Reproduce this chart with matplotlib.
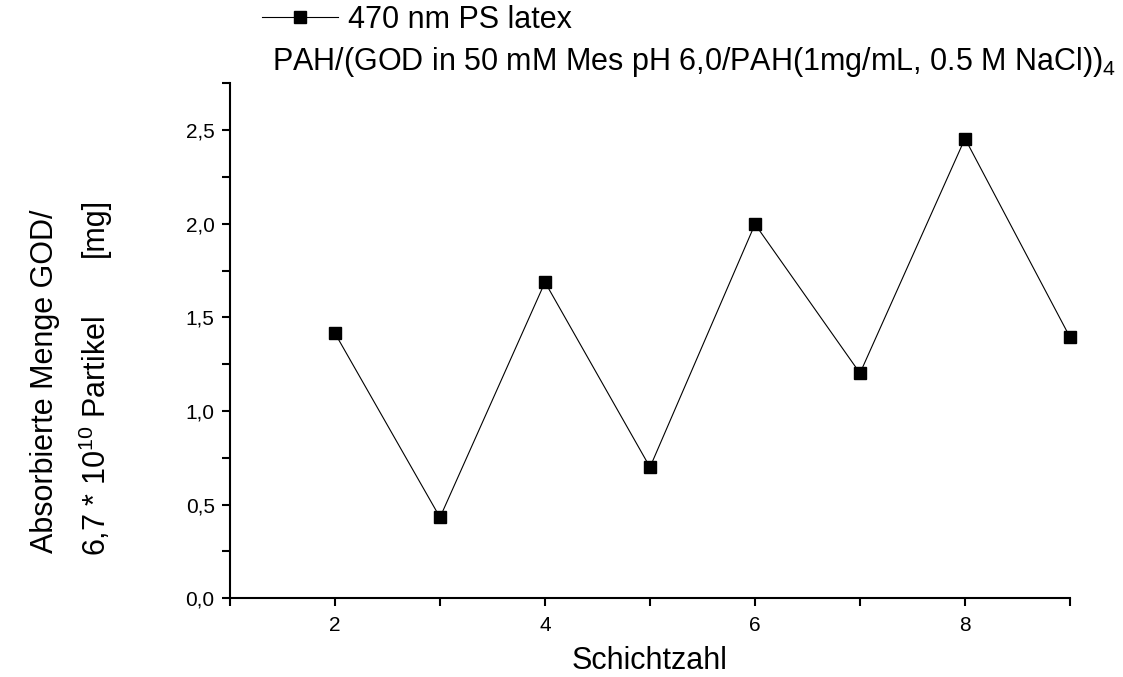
import matplotlib
matplotlib.use("Agg")
import matplotlib.pyplot as plt
from matplotlib.ticker import MultipleLocator, FuncFormatter

plt.rcParams['font.family'] = ['Liberation Sans', 'DejaVu Sans']
plt.rcParams['mathtext.fontset'] = 'custom'
plt.rcParams['mathtext.rm'] = 'Liberation Sans'
plt.rcParams['mathtext.it'] = 'Liberation Sans'

# data
schichten = [2, 3, 4, 5, 6, 7, 8, 9]
menge = [1.415, 0.432, 1.688, 0.700, 1.998, 1.202, 2.455, 1.394]
serie = "470 nm PS latex"
titel = r"PAH/(GOD in 50 mM Mes pH 6,0/PAH(1mg/mL, 0.5 M NaCl))$_4$"

fig = plt.figure(figsize=(11.23, 6.77), dpi=100)
ax = fig.add_axes([230/1123, 1 - 598.3/677, 840/1123, 515/677])

ax.plot(schichten, menge, color='black', linewidth=0.8, marker='s',
        markersize=9, markerfacecolor='black', markeredgecolor='black',
        label=serie, clip_on=False)

ax.set_xlim(1, 9)
ax.set_ylim(0, 2.75)
ax.patch.set_alpha(0)

# only left and bottom axes like the original
ax.spines['right'].set_visible(False)
ax.spines['top'].set_visible(False)
ax.spines['left'].set_linewidth(1.5)
ax.spines['bottom'].set_linewidth(1.5)

ax.xaxis.set_major_locator(MultipleLocator(2))
ax.xaxis.set_minor_locator(MultipleLocator(1))
ax.yaxis.set_major_locator(MultipleLocator(0.5))
ax.yaxis.set_minor_locator(MultipleLocator(0.25))
ax.yaxis.set_major_formatter(FuncFormatter(lambda v, p: f"{v:.1f}".replace('.', ',')))

ax.tick_params(which='both', direction='out', length=6, width=1.5, labelsize=15)
ax.tick_params(axis='y', which='major', pad=5)
ax.tick_params(axis='x', which='major', pad=7)

ax.set_xlabel("Schichtzahl", fontsize=22, labelpad=8)

# two line y label
fig.text(45/1123, 1 - 381/677, "Absorbierte Menge GOD/", rotation=90,
         ha='center', va='center', fontsize=22)
fig.text(95/1123, 1 - 556/677, r"6,7 * 10$^{10}$ Partikel", rotation=90,
         ha='center', va='bottom', fontsize=22)
fig.text(95/1123, 1 - 198/677, "[mg]", rotation=90,
         ha='center', va='top', fontsize=22)

fig.legend(loc='center left', bbox_to_anchor=(262/1123, 1 - 20/677), frameon=False,
           fontsize=22, handlelength=2.5, handletextpad=0.33, borderpad=0, borderaxespad=0)
fig.text(272/1123, 1 - 62/677, titel, ha='left', va='center', fontsize=22)

fig.savefig("out.png", dpi=100)
